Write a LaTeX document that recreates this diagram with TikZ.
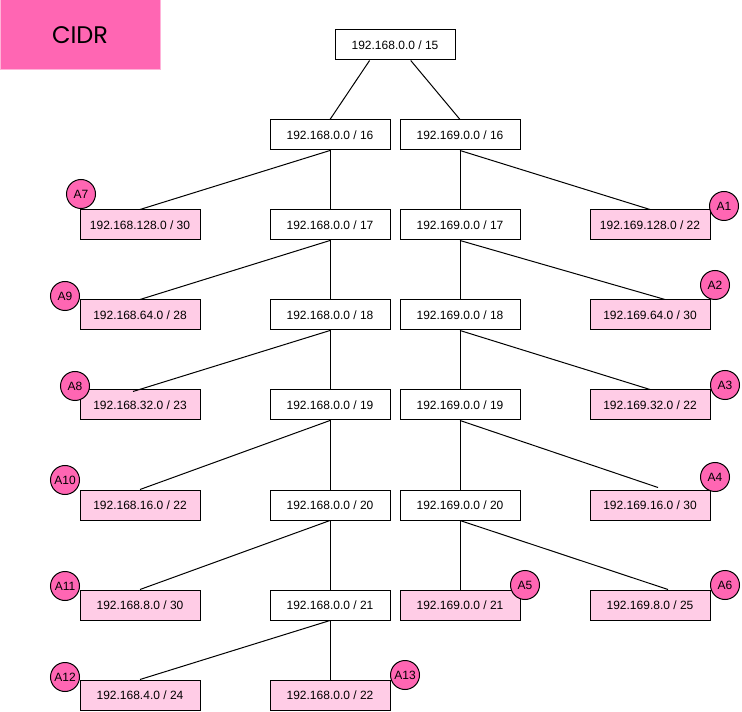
\documentclass[tikz,border=0pt]{standalone}
\usepackage{fontspec}
\setmainfont{Liberation Sans}
\newfontfamily\titlefont{Poppins}
\usetikzlibrary{calc}
\definecolor{hotpink}{HTML}{FF66B3}
\definecolor{lightpink}{HTML}{FFCCE6}
\definecolor{borderpink}{HTML}{FFB3D9}
\begin{document}
\begin{tikzpicture}[x=0.75pt,y=-0.75pt,
  box/.style={draw=black,line width=0.75pt,fill=white,minimum width=90pt,minimum height=22.5pt,inner sep=0pt,font=\fontsize{9pt}{11pt}\selectfont},
  leaf/.style={box,fill=lightpink},
  tag/.style={circle,draw=black,line width=0.75pt,fill=hotpink,minimum size=21.75pt,inner sep=0pt,font=\fontsize{9pt}{11pt}\selectfont},
  link/.style={draw=black,line width=0.75pt},
  titlebox/.style={draw=borderpink,line width=0.75pt,fill=hotpink,minimum width=120pt,minimum height=52.5pt,inner sep=0pt,font=\titlefont\fontsize{18pt}{20pt}\selectfont}]
\useasboundingbox (0,0) rectangle (742,712);
\node[titlebox] (title) at (80,35) {CIDR};
% tree nodes
\node[box] (root) at (395,45) {192.168.0.0 / 15};
\node[box] (L16) at (330,135) {192.168.0.0 / 16};
\node[box] (R16) at (460,135) {192.169.0.0 / 16};
\node[box] (L17) at (330,225) {192.168.0.0 / 17};
\node[box] (R17) at (460,225) {192.169.0.0 / 17};
\node[box] (L18) at (330,315) {192.168.0.0 / 18};
\node[box] (R18) at (460,315) {192.169.0.0 / 18};
\node[box] (L19) at (330,405) {192.168.0.0 / 19};
\node[box] (R19) at (460,405) {192.169.0.0 / 19};
\node[box] (L20) at (330,505) {192.168.0.0 / 20};
\node[box] (R20) at (460,505) {192.169.0.0 / 20};
\node[box] (L21) at (330,605) {192.168.0.0 / 21};
% leaves
\node[leaf] (a7b) at (140,225) {192.168.128.0 / 30};
\node[leaf] (a9b) at (140,315) {192.168.64.0 / 28};
\node[leaf] (a8b) at (140,405) {192.168.32.0 / 23};
\node[leaf] (a10b) at (140,505) {192.168.16.0 / 22};
\node[leaf] (a11b) at (140,605) {192.168.8.0 / 30};
\node[leaf] (a12b) at (140,695) {192.168.4.0 / 24};
\node[leaf] (a13b) at (330,695) {192.168.0.0 / 22};
\node[leaf] (a5b) at (460,605) {192.169.0.0 / 21};
\node[leaf] (a1b) at (650,225) {192.169.128.0 / 22};
\node[leaf] (a2b) at (650,315) {192.169.64.0 / 30};
\node[leaf] (a3b) at (650,405) {192.169.32.0 / 22};
\node[leaf] (a4b) at (650,505) {192.169.16.0 / 30};
\node[leaf] (a6b) at (650,605) {192.169.8.0 / 25};
% connectors
\draw[link] ($(root.south west)!0.29!(root.south east)$) -- (L16.north);
\draw[link] ($(root.south west)!0.63!(root.south east)$) -- (R16.north);
\draw[link] (L16.south) -- (L17.north);
\draw[link] (L16.south) -- (a7b.north);
\draw[link] (R16.south) -- (R17.north);
\draw[link] (R16.south) -- (a1b.north);
\draw[link] (L17.south) -- (L18.north);
\draw[link] (L17.south) -- (a9b.north);
\draw[link] (R17.south) -- (R18.north);
\draw[link] (R17.south) -- ($(a2b.north)+(15,0)$);
\draw[link] (L18.south) -- (L19.north);
\draw[link] (L18.south) -- ($(a8b.north)+(-7,2)$);
\draw[link] (R18.south) -- (R19.north);
\draw[link] (R18.south) -- (a3b.north);
\draw[link] (L19.south) -- (L20.north);
\draw[link] (L19.south) -- (a10b.north);
\draw[link] (R19.south) -- (R20.north);
\draw[link] (R19.south) -- ($(a4b.north)+(8,-2)$);
\draw[link] (L20.south) -- (L21.north);
\draw[link] (L20.south) -- (a11b.north);
\draw[link] (R20.south) -- (a5b.north);
\draw[link] (R20.south) -- ($(a6b.north)+(18,0)$);
\draw[link] (L21.south) -- (a13b.north);
\draw[link] (L21.south) -- (a12b.north);
% tags
\node[tag] (A7) at (81,194) {A7};
\node[tag] (A9) at (65,296) {A9};
\node[tag] (A8) at (75,386) {A8};
\node[tag] (A10) at (65,480) {A10};
\node[tag] (A11) at (65,586) {A11};
\node[tag] (A12) at (65,677) {A12};
\node[tag] (A13) at (405,675) {A13};
\node[tag] (A1) at (724,206) {A1};
\node[tag] (A2) at (715,285) {A2};
\node[tag] (A3) at (725,385) {A3};
\node[tag] (A4) at (715,477) {A4};
\node[tag] (A5) at (525,585) {A5};
\node[tag] (A6) at (725,585) {A6};
\end{tikzpicture}
\end{document}
